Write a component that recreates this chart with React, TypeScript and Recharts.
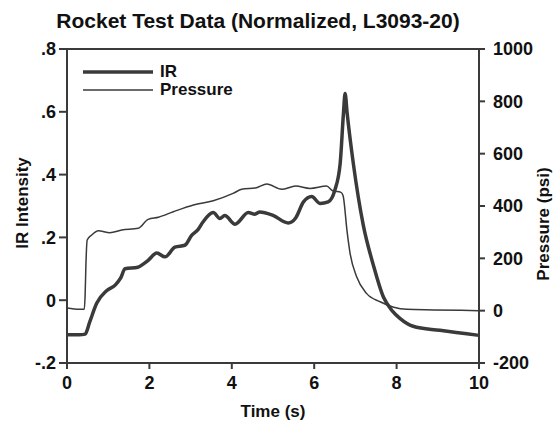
import React from 'react';
import {
  LineChart,
  Line,
  XAxis,
  YAxis,
  Legend,
  ReferenceLine,
  Label,
} from 'recharts';

const irTime = [0, 0.3, 0.44, 0.55, 0.72, 0.96, 1.17, 1.3, 1.41, 1.72, 1.85, 1.97, 2.18, 2.38, 2.62, 2.86, 3.03, 3.18, 3.3, 3.55, 3.71, 3.83, 4.08, 4.4, 4.56, 4.68, 5.0, 5.37, 5.55, 5.74, 5.94, 6.14, 6.34, 6.5, 6.63, 6.71, 6.75, 6.8, 6.95, 7.19, 7.44, 7.68, 7.9, 8.08, 8.4, 9.05, 10];
const irValues = [-0.11, -0.11, -0.108, -0.07, -0.01, 0.03, 0.048, 0.07, 0.1, 0.105, 0.115, 0.127, 0.15, 0.138, 0.169, 0.175, 0.207, 0.225, 0.249, 0.279, 0.26, 0.27, 0.242, 0.279, 0.274, 0.281, 0.27, 0.246, 0.262, 0.313, 0.33, 0.308, 0.313, 0.35, 0.435, 0.595, 0.658, 0.595, 0.435, 0.24, 0.11, 0.01, -0.035, -0.058, -0.083, -0.096, -0.112];

const pressureTime = [0, 0.3, 0.42, 0.44, 0.46, 0.49, 0.6, 0.76, 1.04, 1.33, 1.73, 1.97, 2.22, 2.58, 3.07, 3.55, 4.03, 4.24, 4.6, 4.85, 5.21, 5.55, 5.9, 6.3, 6.45, 6.65, 6.7, 6.8, 6.87, 7.03, 7.27, 7.6, 7.93, 8.25, 8.9, 10];
const pressureValues = [10, 5, 5, 60, 180, 270, 289, 305, 298, 308, 315, 349, 357, 378, 404, 420, 448, 464, 470, 484, 464, 476, 467, 476, 458, 452, 440, 300, 220, 130, 66, 34, 13, 5, 3, 0];

const timeTicks = [0, 2, 4, 6, 8, 10];
const irTicks = [-0.2, 0, 0.2, 0.4, 0.6, 0.8];
const pressureTicks = [-200, 0, 200, 400, 600, 800, 1000];

const irData = irTime.map((t, i) => ({ t, ir: irValues[i] }));
const pressureData = pressureTime.map((t, i) => ({ t, pressure: pressureValues[i] }));

const ink = '#3a3a3a';
const font = '"Liberation Sans", Arial, Helvetica, sans-serif';
const tickStyle = { fill: '#111', fontSize: 18, fontWeight: 700, fontFamily: font };

const fmtIr = (v: number) => {
  if (Math.abs(v) < 1e-9) return '0';
  return v.toFixed(1).replace(/^(-?)0\./, '$1.');
};

function LegendBox(props: any) {
  const items = props.payload || [];
  return (
    <div style={{ fontFamily: font, fontWeight: 700, fontSize: 17, color: '#111', lineHeight: '18px' }}>
      {items.map((p: any) => (
        <div key={p.value} style={{ display: 'flex', alignItems: 'center', height: 18 }}>
          <svg width={70} height={8} style={{ marginRight: 7 }}>
            <line x1={0} x2={70} y1={4} y2={4} stroke={ink} strokeWidth={p.value === 'IR' ? 3.5 : 1.6} />
          </svg>
          <span>{p.value}</span>
        </div>
      ))}
    </div>
  );
}

export default function App() {
  return (
    <div style={{ position: 'relative', width: 553, height: 421, background: '#fff' }}>
      <style>{`body{margin:0}`}</style>
      <div
        style={{
          position: 'absolute',
          left: 0,
          top: 9,
          width: 516,
          textAlign: 'center',
          fontFamily: font,
          fontWeight: 700,
          fontSize: 21,
          color: '#111',
          zIndex: 2,
        }}
      >
        Rocket Test Data (Normalized, L3093-20)
      </div>
      <LineChart width={553} height={421} margin={{ top: 49, right: 0, bottom: 0, left: 0 }}>
        <XAxis
          dataKey="t"
          type="number"
          domain={[0, 10]}
          ticks={timeTicks}
          allowDuplicatedCategory={false}
          height={58}
          tickSize={6}
          tickMargin={7}
          tick={tickStyle}
          stroke={ink}
          strokeWidth={2}
          tickLine={{ stroke: ink, strokeWidth: 2 }}
        >
          <Label
            content={() => (
              <text x={273} y={417} textAnchor="middle" style={{ ...tickStyle, fontSize: 17 }}>
                Time (s)
              </text>
            )}
          />
        </XAxis>
        <YAxis
          yAxisId="ir"
          orientation="left"
          domain={[-0.2, 0.8]}
          ticks={irTicks}
          tickFormatter={fmtIr}
          width={67}
          tickSize={8}
          tickMargin={3}
          tick={tickStyle}
          stroke={ink}
          strokeWidth={2}
          tickLine={{ stroke: ink, strokeWidth: 2 }}
        >
          <Label
            content={() => (
              <text
                x={22}
                y={203}
                textAnchor="middle"
                dominantBaseline="central"
                transform="rotate(-90, 22, 203)"
                style={{ ...tickStyle, fontSize: 17 }}
              >
                IR Intensity
              </text>
            )}
          />
        </YAxis>
        <YAxis
          yAxisId="p"
          orientation="right"
          domain={[-200, 1000]}
          ticks={pressureTicks}
          width={74}
          tickSize={6}
          tickMargin={8}
          tick={tickStyle}
          stroke={ink}
          strokeWidth={2}
          tickLine={{ stroke: ink, strokeWidth: 2 }}
        >
          <Label
            content={() => (
              <text
                x={543}
                y={224}
                textAnchor="middle"
                dominantBaseline="central"
                transform="rotate(-90, 543, 224)"
                style={{ ...tickStyle, fontSize: 17 }}
              >
                Pressure (psi)
              </text>
            )}
          />
        </YAxis>
        <ReferenceLine yAxisId="ir" y={0.8} stroke={ink} strokeWidth={2} />
        <Legend
          layout="horizontal"
          verticalAlign="middle"
          align="center"
          content={<LegendBox />}
          wrapperStyle={{ left: 83, top: 63, width: 'auto', height: 'auto' }}
        />
        <Line
          yAxisId="ir"
          data={irData}
          dataKey="ir"
          name="IR"
          type="monotone"
          stroke={ink}
          strokeWidth={3.5}
          dot={false}
          isAnimationActive={false}
        />
        <Line
          yAxisId="p"
          data={pressureData}
          dataKey="pressure"
          name="Pressure"
          type="monotone"
          stroke={ink}
          strokeWidth={1.5}
          dot={false}
          isAnimationActive={false}
        />
      </LineChart>
    </div>
  );
}
